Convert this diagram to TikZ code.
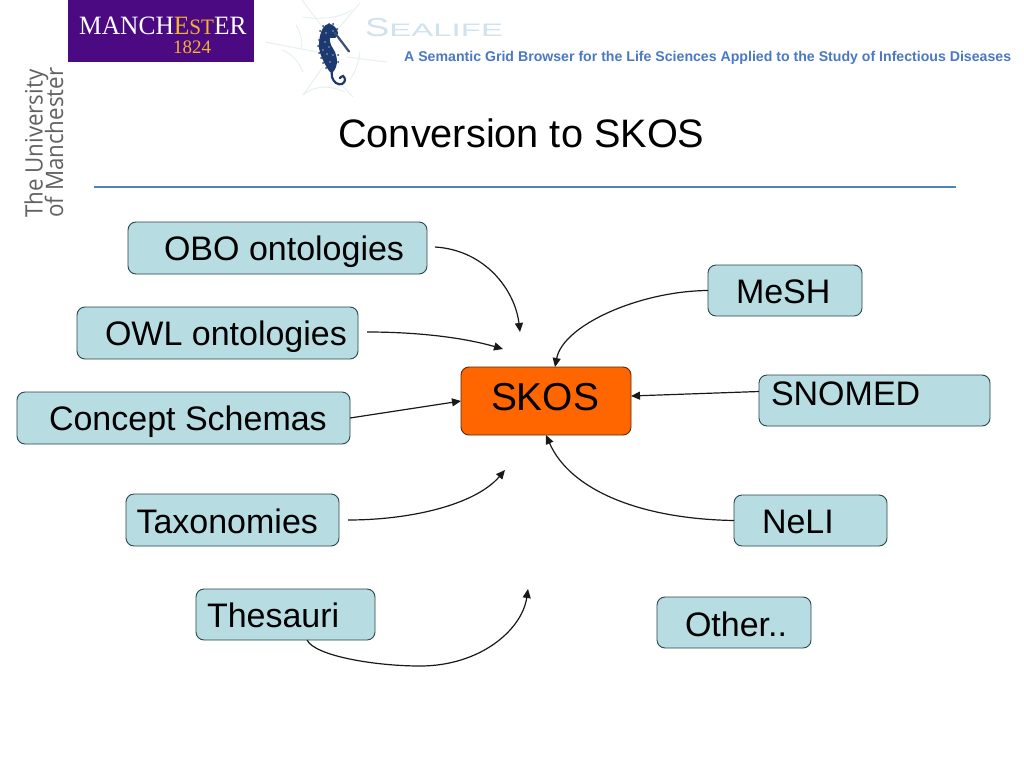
\documentclass[tikz,border=0pt]{standalone}
\usepackage{fontspec}
\setmainfont{Liberation Sans}
\newfontfamily\serifface{Liberation Serif}
\newfontfamily\uniface{Open Sans}
\usetikzlibrary{arrows.meta}
\definecolor{boxfill}{HTML}{B7DDE2}
\definecolor{boxedge}{HTML}{2B4548}
\definecolor{skosfill}{HTML}{FF6600}
\definecolor{skosedge}{HTML}{5A2A08}
\definecolor{rulecol}{HTML}{4F81C0}
\definecolor{tagcol}{HTML}{4A78C4}
\definecolor{purplecol}{HTML}{4B0A82}
\definecolor{goldcol}{HTML}{F2B233}
\definecolor{unigrey}{HTML}{626262}
\definecolor{webcol}{HTML}{E8F0F2}
\definecolor{sealcol}{HTML}{CFE2EE}
\definecolor{horsecol}{HTML}{1D3A70}
\tikzset{
  x=1pt,y=-1pt,
  boxbase/.style={rounded corners=8pt,inner sep=0pt,outer sep=0pt,line width=0.9pt},
  lightbox/.style={boxbase,draw=boxedge,fill=boxfill},
  orangebox/.style={boxbase,draw=skosedge,fill=skosfill},
  conn/.style={line width=1.2pt,draw=black!90,-{Triangle[length=9pt,width=8pt]}},
  webline/.style={draw=webcol,line width=1pt},
}
% name, style, x1,y1,x2,y2, text x, baseline y, size (text in \boxtext)
\newcommand\boxnode[9]{%
  \pgfmathsetmacro\bxw{#5-#3}\pgfmathsetmacro\bxh{#6-#4}%
  \pgfmathsetmacro\bxa{#8-#4}\pgfmathsetmacro\bxd{#6-#8}%
  \pgfmathsetmacro\bxo{#7-#3}%
  \node[#2,text width=\bxw pt,text height=\bxa pt,text depth=\bxd pt,align=flush left]
    (#1) at ({(#3+#5)/2},{(#4+#6)/2}) {\hspace*{\bxo pt}\fontsize{#9}{#9}\selectfont\boxtext};%
}
\begin{document}
\begin{tikzpicture}
\useasboundingbox (0,0) rectangle (1024,768);
\fill[white] (0,0) rectangle (1024,768);
% Manchester logo
\fill[purplecol] (68,0) rectangle (254,62);
\node[anchor=base west,inner sep=0pt,text=white] (manlogo) at (79,35) {\serifface\scalebox{0.96}[1]{\fontsize{26.5}{26.5}\selectfont MANCH\textcolor{goldcol}{E\fontsize{22}{22}\selectfont ST}\fontsize{26.5}{26.5}\selectfont ER}};
\node[anchor=base,inner sep=0pt,text=goldcol] (manyear) at (192,53) {\serifface\fontsize{19}{19}\selectfont 1824};
\node[anchor=base west,inner sep=0pt,text=unigrey,rotate=90] (uni1) at (42.5,218) {\uniface\scalebox{0.93}[1]{\fontsize{24}{24}\selectfont The University}};
\node[anchor=base west,inner sep=0pt,text=unigrey,rotate=90] (uni2) at (63,218) {\uniface\scalebox{0.93}[1]{\fontsize{24}{24}\selectfont of Manchester}};
% web
\draw[webline] (302,0) -- (327,33);
\draw[webline] (360,3) -- (337,30);
\draw[webline] (265,42) -- (317,52);
\draw[webline] (387,62) -- (347,57);
\draw[webline] (303,95) -- (323,67);
\draw[webline] (353,97) -- (340,83);
\draw[webline] (303,17) .. controls (320,20) and (340,18) .. (352,10);
\draw[webline] (296,25) .. controls (302,35) and (303,45) .. (301,48);
\draw[webline] (282,50) .. controls (295,55) and (300,65) .. (303,72);
\draw[webline] (360,52) .. controls (358,65) and (355,72) .. (350,80);
\draw[webline] (303,95) .. controls (315,85) and (330,85) .. (345,92);
% seahorse
\fill[horsecol] plot[smooth cycle,tension=0.6] coordinates {
 (328,24) (334,26) (338,33) (335,38) (330,38) (331,45) (335,52) (337,60) (336,67)
 (333,72) (330,72) (326,66) (322,58) (319,48) (320,36) (323,28)};
\draw[horsecol,line width=2.2pt,line cap=round] plot[smooth,tension=0.7] coordinates {
 (332,70) (332,77) (336,83) (342,84) (345,80) (343,76) (340,78)};
\draw[horsecol!70!gray,line width=2.2pt,line cap=round] (335,33) -- (349,51.5);
\foreach \i/\j in {319/40,318/46,319/53,321/58,323/63,326/68,329/24,333/24,323/26,337/29,320/31,338/55,338/62}
  \fill[horsecol] (\i,\j) circle (1pt);
\foreach \i/\j in {326/33,325/42,329/47,323/50,327/54,333/55,330/62,333/31}
  \fill[horsecol!45!white] (\i,\j) circle (0.8pt);
\node[anchor=base west,inner sep=0pt,text=sealcol] (seallogo) at (365,36.5) {\scalebox{1.4}[1]{\fontsize{26}{26}\selectfont S}\scalebox{1.83}[1]{\fontsize{18}{18}\selectfont EALIFE}};
\node[anchor=base west,inner sep=0pt,text=tagcol] (tagline) at (404,61.5) {\fontsize{14.13}{16}\selectfont\bfseries A Semantic Grid Browser for the Life Sciences Applied to the Study of Infectious Diseases};
% title and rule
\node[anchor=base west,inner sep=0pt] (title) at (338,147) {\fontsize{39.7}{44}\selectfont Conversion to SKOS};
\coordinate (ruleL) at (94,187);
\coordinate (ruleR) at (956,187);
\draw[rulecol,line width=1.5pt] (ruleL) -- (ruleR);
% boxes
\def\boxtext{OBO ontologies}\boxnode{obo}{lightbox}{128}{222}{427}{274}{164}{260}{34}
\def\boxtext{OWL ontologies}\boxnode{owl}{lightbox}{77}{307}{358}{359}{105}{345}{34}
\def\boxtext{Concept Schemas}\boxnode{con}{lightbox}{17}{392}{350}{444}{49}{430}{34}
\def\boxtext{Taxonomies}\boxnode{tax}{lightbox}{126}{494}{339}{546}{136.5}{533}{34}
\def\boxtext{Thesauri}\boxnode{the}{lightbox}{196}{589}{375}{640}{207}{627}{34}
\def\boxtext{MeSH}\boxnode{mesh}{lightbox}{708}{265}{862}{316}{736}{303}{34}
\def\boxtext{SNOMED}\boxnode{snomed}{lightbox}{759}{375}{990}{426}{771}{405}{34}
\def\boxtext{NeLI}\boxnode{neli}{lightbox}{734}{495}{887}{546}{762}{533}{34}
\def\boxtext{Other..}\boxnode{other}{lightbox}{657}{597}{811}{648}{685}{636}{34}
\def\boxtext{SKOS}\boxnode{skos}{orangebox}{461}{367}{631}{435}{491}{410}{38.9}
% free ends
\coordinate (oboS) at (435,247);
\coordinate (oboE) at (520,332);
\coordinate (owlS) at (367,332);
\coordinate (owlE) at (503,349);
\coordinate (taxS) at (348,520);
\coordinate (taxE) at (505,470);
\coordinate (theE) at (528,589);
% connectors
\draw[conn] (oboS) .. controls (485,250) and (515,290) .. (oboE);
\draw[conn] (owlS) .. controls (420,332) and (465,338) .. (owlE);
\draw[conn] (con.east) -- (skos.west);
\draw[conn] (taxS) .. controls (410,520) and (475,505) .. (taxE);
\draw[conn] ([xshift=21.5pt]the.south) .. controls (315,656) and (375,666) .. (420,666) .. controls (480,666) and (522,630) .. (theE);
\draw[conn] (mesh.west) .. controls (640,291) and (563,325) .. ([xshift=9pt]skos.north);
\draw[conn] ([yshift=9pt]snomed.west) -- ([yshift=5pt]skos.east);
\draw[conn] (neli.west) .. controls (640,519) and (570,490) .. (skos.south);
\end{tikzpicture}
\end{document}
